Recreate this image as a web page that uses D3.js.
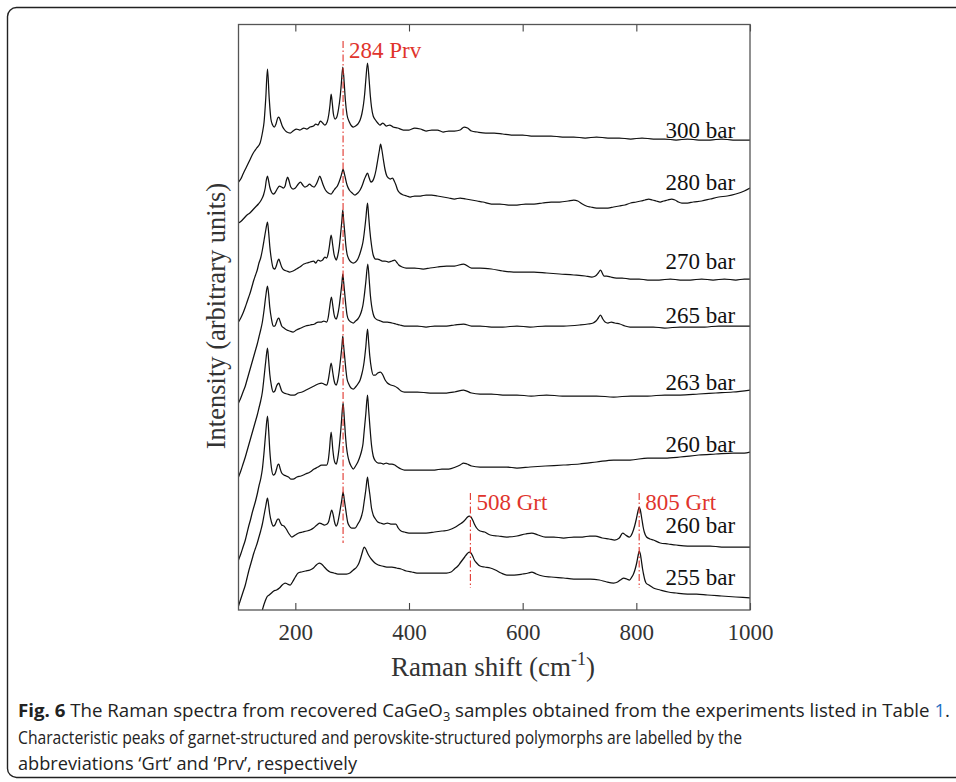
<!DOCTYPE html>
<html><head><meta charset="utf-8">
<script src="https://cdn.jsdelivr.net/npm/d3@7"></script>
<style>body{margin:0;background:#fff}svg{display:block}</style>
</head><body><svg id="c" width="956" height="782"></svg>
<script>
const xTicks = [200, 400, 600, 800, 1000];
const seriesNames = ["300 bar","280 bar","270 bar","265 bar","263 bar","260 bar","260 bar","255 bar"];
const labelLevels = [471.7, 420, 340.7, 286.7, 220, 158.3, 76.7, 25];
const peakPositions = [284, 508, 805];
const peakNames = ["284 Prv", "508 Grt", "805 Grt"];
const peakLineTop = [569, 117, 117];
const peakLineBottom = [67, 22, 22];
const peakLabelLevels = [551.7, 100, 100];

const s300 = [[100,428],[104,431],[108,436],[114,443],[120,450],[126,457],[132,462],[138,467],[142,477],[145,488],[148,512],[151,541],[154,512],[157,491],[160,485],[163,483],[166,486],[169,492],[171,493],[174,489],[177,484],[180,481],[185,478],[191,477],[196,479],[202,481],[208,480],[215,482],[220,481],[226,483],[232,484],[236,486],[240,485],[244,489],[248,487],[252,485],[256,488],[259,496],[261,505],[263,516],[265,507],[267,496],[270,491],[273,493],[276,501],[279,514],[281,527],[283.5,543],[286,527],[288,510],[291,495],[295,488],[299,484],[302,483],[306,484],[310,486],[314,490],[317,496],[320,506],[322,516],[324,530],[327,547],[330,529],[332,514],[334,503],[337,494],[341,490],[345,487],[349,485],[354,487],[360,484],[366,485],[372,483],[380,482],[390,480],[400,480],[410,482],[420,481],[430,479],[440,480],[450,480],[460,478],[470,479],[480,479],[490,480],[497,483],[503,482],[510,479],[520,478],[535,477],[550,477],[565,476],[580,475],[600,475],[615,474],[630,474],[650,474],[670,473],[690,473],[710,472],[730,473],[750,472],[770,472],[790,471],[810,472],[830,471],[850,471],[870,470],[890,471],[910,470],[930,470],[950,471],[970,470],[990,470],[1000,470]];
const s280 = [[100,387],[105,389],[110,392],[115,395],[120,397],[125,400],[130,403],[135,406],[140,410],[144,415],[147,422],[149,430],[151,434],[153,429],[155,423],[158,418],[161,416],[164,417],[168,421],[172,424],[176,423],[179,422],[182,424],[184,429],[186.5,433],[189,429],[192,423],[196,421],[200,422],[204,425],[209,428],[213,425],[217,423],[221,424],[225,426],[229,424],[233,423],[237,426],[240,430],[243,434],[246,430],[249,425],[253,420],[258,417],[263,416],[267,419],[271,422],[274,424],[277,428],[280,433],[282,437],[284,441],[286,437],[288,432],[291,425],[295,420],[300,417],[305,415],[310,417],[314,420],[318,425],[321,430],[324,434],[327,437],[330,432],[333,428],[336,429],[339,433],[342,440],[345,450],[348,460],[350,466],[352,461],[355,450],[358,440],[361,434],[364,432],[367,431],[371,432],[374,429],[377,425],[380,420],[384,417],[390,415],[396,414],[402,413],[410,414],[420,414],[430,415],[440,415],[450,414],[460,413],[470,412],[480,411],[490,412],[500,411],[510,410],[520,409],[530,408],[545,406],[560,406],[575,405],[590,405],[605,406],[620,406],[635,407],[650,408],[665,408],[680,409],[690,410],[697,409],[705,406],[712,404],[720,403],[730,402],[740,402],[750,402],[760,403],[770,404],[780,405],[790,407],[800,408],[808,409],[815,410],[822,411],[828,410],[835,409],[842,408],[848,409],[855,410],[862,411],[868,410],[874,408],[880,407],[890,407],[900,408],[915,409],[930,411],[945,413],[960,414],[975,416],[990,419],[1000,422]];
const s270 = [[100,288],[104,292],[108,297],[112,303],[115,308],[118,313],[121,318],[124,324],[127,330],[130,335],[133,340],[136,347],[139,352],[142,360],[145,370],[148,380],[151,388],[153,378],[155,364],[158,350],[161,342],[164,341],[167,345],[169,349],[171,351],[173,348],[176,343],[180,340],[185,339],[190,338],[196,339],[202,341],[208,343],[215,346],[220,347],[226,348],[232,349],[236,347],[240,350],[244,349],[248,350],[252,353],[255,352],[258,357],[260,364],[263,375],[266,364],[268,356],[270,352],[272,350],[274,353],[277,362],[280,378],[282,390],[283.5,400],[285,390],[287,377],[289,364],[291,356],[294,351],[298,348],[302,347],[306,348],[310,351],[314,357],[317,363],[319,368],[321,376],[324,391],[327,407],[329,394],[331,380],[334,365],[337,355],[341,351],[345,351],[349,350],[353,349],[358,349],[364,348],[370,349],[375,350],[378,348],[382,345],[388,343],[395,342],[410,342],[425,341],[437,342],[450,343],[466,344],[480,344],[496,346],[510,342],[525,342],[545,341],[565,339],[584,338],[600,338],[620,338],[642,337],[665,336],[690,335],[710,334],[722,333],[728,334],[733,337],[737,340],[740,337],[743,334],[748,334],[755,333],[765,332],[775,332],[789,331],[805,331],[820,330],[840,330],[860,331],[877,330],[895,330],[915,331],[935,330],[955,331],[975,330],[990,331],[1000,331]];
const s265 = [[100,207],[104,212],[108,218],[112,224],[115,230],[118,236],[121,242],[124,248],[127,254],[130,260],[133,266],[136,273],[139,280],[142,288],[145,300],[148,314],[151,324],[153,316],[155,303],[158,291],[161,284],[164,284],[167,288],[169,291],[171,292],[173,289],[176,284],[180,282],[185,280],[190,279],[196,278],[202,280],[210,282],[218,284],[226,285],[234,286],[240,288],[246,288],[250,289],[255,288],[258,293],[260,301],[263.5,313],[266,304],[268,296],[270,292],[272,291],[274,294],[277,303],[280,317],[282,327],[283.5,336],[285,328],[287,316],[289,304],[291,295],[294,290],[298,288],[302,287],[306,289],[310,291],[314,295],[317,300],[319,305],[321,313],[324,328],[327.5,346],[330,330],[332,315],[334,305],[337,296],[340,292],[345,290],[350,289],[355,288],[362,288],[370,287],[377,286],[384,285],[392,284],[400,284],[415,284],[430,283],[445,284],[466,284],[480,285],[496,286],[510,284],[525,284],[545,283],[565,283],[590,284],[613,283],[640,284],[672,284],[700,285],[715,286],[724,287],[729,289],[733,292],[737,295],[741,291],[745,288],[750,287],[756,288],[762,287],[771,286],[780,284],[789,283],[810,283],[830,283],[850,282],[877,283],[900,283],[920,283],[945,284],[970,284],[1000,284]];
const s263 = [[100,133],[104,139],[108,146],[112,153],[115,159],[118,165],[121,171],[124,177],[127,183],[130,189],[133,195],[136,202],[139,209],[142,218],[145,233],[148,249],[151,262],[153,250],[155,236],[158,224],[161,218],[164,219],[167,224],[169,226],[171,227],[173,224],[176,219],[180,217],[186,216],[192,215],[198,215],[205,217],[212,218],[219,220],[226,222],[233,224],[240,226],[246,227],[250,226],[255,225],[258,230],[260,237],[263,247],[266,237],[268,230],[270,226],[272,225],[274,228],[277,238],[280,253],[282,264],[283.5,274],[285,264],[287,252],[289,240],[291,231],[294,226],[298,222],[302,221],[306,223],[310,226],[314,230],[317,236],[319,241],[321,248],[324,263],[327,281],[329,268],[331,254],[334,241],[337,235],[341,235],[345,237],[350,238],[354,235],[358,230],[362,227],[368,225],[374,224],[380,222],[386,219],[392,218],[400,218],[415,218],[437,217],[450,217],[466,217],[480,218],[496,220],[510,217],[525,216],[545,216],[565,215],[590,215],[615,214],[642,215],[670,214],[700,214],[730,214],[760,213],[790,214],[820,214],[850,215],[877,215],[910,216],[940,217],[970,218],[1000,220]];
const s260a = [[100,50],[104,56],[108,63],[112,70],[115,77],[118,84],[121,90],[124,97],[127,103],[130,109],[133,116],[136,124],[139,131],[142,141],[145,158],[148,178],[151,194],[153,180],[155,160],[158,142],[161,135],[164,136],[167,141],[169,145],[171,146],[173,142],[176,137],[180,135],[184,134],[188,133],[192,131],[196,131],[203,133],[210,134],[218,136],[226,138],[233,141],[240,143],[246,145],[250,145],[255,145],[258,150],[260,160],[263,178],[266,160],[268,151],[270,147],[272,146],[274,150],[277,162],[280,180],[282,195],[284,207],[286,193],[288,176],[290,163],[292,155],[295,148],[298,144],[302,141],[306,144],[310,148],[314,154],[317,160],[319,166],[321,178],[324,196],[327,215],[329,200],[331,185],[334,165],[337,154],[341,149],[346,147],[350,147],[355,146],[360,147],[365,146],[370,146],[375,145],[380,143],[386,141],[392,140],[400,140],[415,140],[430,140],[445,140],[458,141],[470,141],[482,143],[490,145],[496,147],[502,146],[510,144],[525,143],[545,143],[572,143],[590,142],[613,143],[640,144],[672,145],[700,146],[730,148],[760,150],[789,150],[820,152],[850,152],[877,153],[910,155],[940,156],[970,157],[990,157],[1000,158]];
const s260b = [[100,4],[104,11],[108,18],[112,25],[115,32],[118,39],[121,45],[124,51],[127,57],[130,62],[133,67],[136,73],[139,79],[142,86],[145,95],[148,104],[151,112],[153,105],[155,96],[158,88],[161,84],[164,85],[167,89],[169,91],[171,91],[173,88],[176,85],[180,84],[184,81],[188,77],[194,73],[200,75],[206,77],[213,78],[220,79],[226,80],[232,82],[238,85],[243,87],[247,86],[251,85],[256,86],[259,89],[261,94],[264,100],[267,94],[269,88],[272,84],[274,86],[277,94],[280,104],[282,111],[284,118],[286,111],[288,103],[290,95],[292,88],[295,84],[299,82],[305,82],[310,86],[314,90],[317,95],[319,100],[321,108],[324,120],[327,133],[329,124],[331,116],[334,102],[337,95],[341,91],[345,88],[350,87],[356,86],[362,87],[368,86],[373,86],[377,86],[381,82],[386,79],[392,78],[400,77],[415,77],[430,77],[445,78],[458,79],[470,80],[482,83],[490,86],[495,88],[500,91],[503,93],[506,94],[509,93],[512,90],[515,86],[519,82],[525,79],[533,78],[543,75],[557,74],[572,73],[590,74],[605,76],[616,77],[627,75],[640,73],[655,73],[672,72],[690,73],[705,73],[718,74],[728,74],[740,72],[752,71],[762,70],[770,72],[776,77],[781,75],[788,73],[793,77],[797,84],[800,91],[803,99],[805,103],[807,100],[810,90],[812,83],[814,78],[818,73],[824,71],[830,70],[842,67],[856,66],[870,65],[890,64],[906,64],[930,64],[950,63],[975,63],[1000,63]];
const s255 = [[142,0],[144,4],[147,9],[150,13],[154,15],[158,17],[162,19],[167,20],[172,22],[177,25],[182,27],[186,26],[191,25],[195,28],[200,33],[205,37],[211,38],[218,39],[226,40],[232,42],[237,45],[242,47],[246,46],[251,43],[256,40],[261,38],[268,37],[275,36],[282,36],[290,36],[296,37],[302,40],[308,43],[312,47],[315,52],[318,58],[321,63],[324,61],[327,57],[331,53],[335,50],[340,47],[346,45],[353,44],[361,43],[370,43],[378,42],[386,41],[395,39],[405,38],[414,37],[425,37],[440,37],[455,37],[466,37],[474,38],[480,41],[486,44],[490,47],[494,50],[498,53],[502,56],[506,58],[509,57],[512,54],[515,50],[519,47],[525,44],[533,43],[543,42],[552,40],[562,37],[572,35],[585,35],[600,36],[610,37],[616,38],[624,36],[635,34],[650,33],[672,32],[690,31],[705,31],[719,31],[735,30],[748,28],[760,27],[767,28],[772,30],[778,32],[783,31],[788,30],[792,33],[795,36],[798,41],[801,48],[803,54],[805,59],[807,56],[809,49],[811,41],[813,35],[815,30],[817,27],[822,25],[830,22],[842,20],[856,18],[870,17],[890,16],[906,16],[925,15],[950,14],[975,13],[1000,12]];
const allSeries = [s300, s280, s270, s265, s263, s260a, s260b, s255];

const svg = d3.select("#c");
const L = 238.5, R = 750, T = 24.5, B = 610;
const x = d3.scaleLinear().domain([100, 1000]).range([L, R]);
const y = d3.scaleLinear().domain([0, 585.5]).range([B, T]);
const serif = "'Liberation Serif','Times New Roman',serif";
const red = "#e0342c";

// outer figure border
svg.append("rect").attr("x", 7.5).attr("y", 7.5).attr("width", 1000).attr("height", 770)
  .attr("rx", 9).attr("fill", "none").attr("stroke", "#222").attr("stroke-width", 1.4);

svg.append("clipPath").attr("id", "clip").append("rect")
  .attr("x", L).attr("y", T).attr("width", R - L).attr("height", B - T);

const line = d3.line().x(d => x(d[0])).y(d => y(d[1])).curve(d3.curveMonotoneX);
svg.append("g").attr("clip-path", "url(#clip)").selectAll("path").data(allSeries).join("path")
  .attr("d", line).attr("fill", "none").attr("stroke", "#111").attr("stroke-width", 1.25)
  .attr("stroke-linejoin", "round");

// peak marker lines
svg.append("g").selectAll("line").data(peakPositions).join("line")
  .attr("x1", d => x(d)).attr("x2", d => x(d))
  .attr("y1", (d, i) => y(peakLineTop[i])).attr("y2", (d, i) => y(peakLineBottom[i]))
  .attr("stroke", red).attr("stroke-width", 1.1).attr("stroke-dasharray", "7,2.5,1.5,2.5");
svg.append("g").selectAll("text").data(peakNames).join("text")
  .attr("x", (d, i) => x(peakPositions[i]) + 6).attr("y", (d, i) => y(peakLabelLevels[i]))
  .attr("font-family", serif).attr("font-size", 23).attr("fill", red).text(d => d);

// series labels
svg.append("g").selectAll("text").data(seriesNames).join("text")
  .attr("x", x(974)).attr("y", (d, i) => y(labelLevels[i]))
  .attr("text-anchor", "end").attr("font-family", serif).attr("font-size", 23)
  .attr("fill", "#111").text(d => d);

// axes
const gx = svg.append("g").attr("transform", `translate(0,${B})`)
  .call(d3.axisBottom(x).tickValues(xTicks).tickFormat(d3.format("d")).tickSize(-7).tickPadding(14));
const gt = svg.append("g").attr("transform", `translate(0,${T})`)
  .call(d3.axisTop(x).tickValues(xTicks).tickSize(-7).tickFormat(""));
[gx, gt].forEach(g => {
  g.select(".domain").remove();
  g.selectAll(".tick line").attr("stroke", "#444").attr("stroke-width", 1.1);
});
gx.selectAll(".tick text").attr("font-family", serif).attr("font-size", 23).attr("fill", "#333");
svg.append("rect").attr("x", L).attr("y", T).attr("width", R - L).attr("height", B - T)
  .attr("fill", "none").attr("stroke", "#555").attr("stroke-width", 1.3);

// axis titles
const xt = svg.append("text").attr("x", 493).attr("y", 676).attr("text-anchor", "middle")
  .attr("font-family", serif).attr("font-size", 27).attr("fill", "#333");
xt.append("tspan").text("Raman shift (cm");
xt.append("tspan").attr("dy", -11).attr("font-size", 18).text("-1");
xt.append("tspan").attr("dy", 11).text(")");
svg.append("text").attr("transform", "translate(225,316) rotate(-90)").attr("text-anchor", "middle")
  .attr("font-family", serif).attr("font-size", 26.5).attr("fill", "#333")
  .text("Intensity (arbitrary units)");

// caption
const sans = "'Open Sans','Noto Sans',sans-serif";
const c1 = svg.append("text").attr("x", 18).attr("y", 717).attr("font-family", sans)
  .attr("font-size", 17.5).attr("fill", "#222").attr("textLength", 932).attr("lengthAdjust", "spacingAndGlyphs");
c1.append("tspan").attr("font-weight", "bold").text("Fig. 6");
c1.append("tspan").text(" The Raman spectra from recovered CaGeO");
c1.append("tspan").attr("dy", 4).attr("font-size", 12).text("3");
c1.append("tspan").attr("dy", -4).text(" samples obtained from the experiments listed in Table ");
c1.append("tspan").attr("fill", "#1f6fc5").text("1");
c1.append("tspan").text(".");
svg.append("text").attr("x", 18).attr("y", 744).attr("font-family", sans).attr("font-size", 17.5)
  .attr("fill", "#222").attr("textLength", 724).attr("lengthAdjust", "spacingAndGlyphs")
  .text("Characteristic peaks of garnet-structured and perovskite-structured polymorphs are labelled by the");
svg.append("text").attr("x", 18).attr("y", 770).attr("font-family", sans).attr("font-size", 17.5)
  .attr("fill", "#222").attr("textLength", 339).attr("lengthAdjust", "spacingAndGlyphs")
  .text("abbreviations \u2018Grt\u2019 and \u2018Prv\u2019, respectively");
</script></body></html>
